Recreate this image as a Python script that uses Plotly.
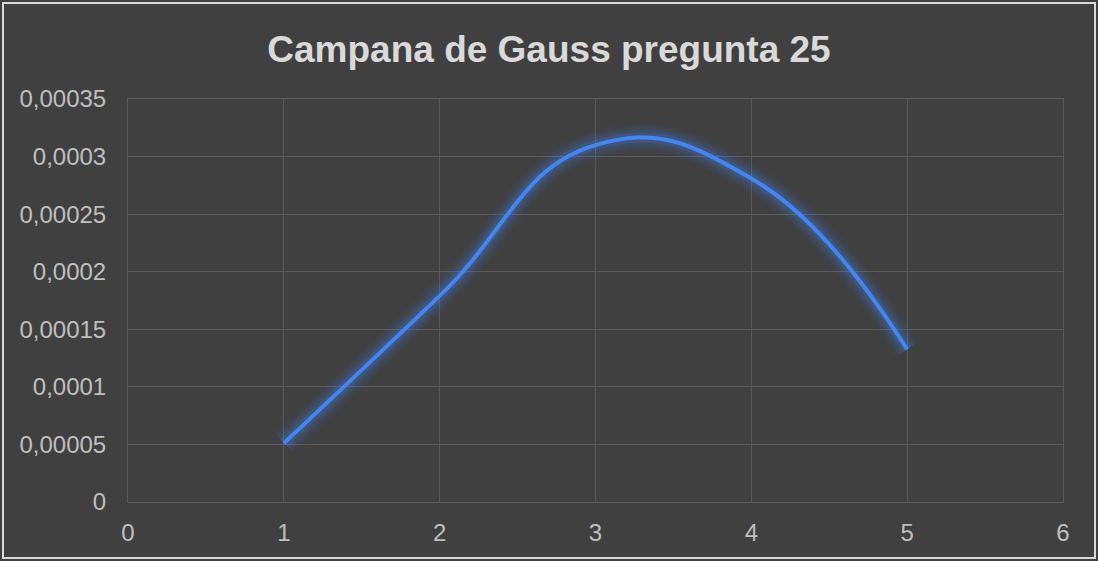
import plotly.graph_objects as go

x_vals = [1, 2, 3, 4, 5]
y_vals = [0.000051, 0.000179, 0.000310, 0.000281, 0.0001325]

y_tick_vals = [0, 0.00005, 0.0001, 0.00015, 0.0002, 0.00025, 0.0003, 0.00035]
y_tick_text = ["0", "0,00005", "0,0001", "0,00015", "0,0002", "0,00025", "0,0003", "0,00035"]
x_tick_vals = [0, 1, 2, 3, 4, 5, 6]

title_text = "Campana de Gauss pregunta 25"

fig = go.Figure()

# glow layers
for w, a in [(28, 0.05), (22, 0.07), (16, 0.10), (10, 0.16)]:
    fig.add_trace(go.Scatter(
        x=x_vals, y=y_vals, mode="lines",
        line=dict(color=f"rgba(66,133,244,{a})", width=w, shape="spline", smoothing=1.3),
        hoverinfo="skip", showlegend=False,
    ))

fig.add_trace(go.Scatter(
    x=x_vals, y=y_vals, mode="lines",
    line=dict(color="#4285F4", width=4, shape="spline", smoothing=1.3),
    showlegend=False,
))

W, H = 1098, 561
ml, mr, mt, mb = 128, 35, 99, 59
pw, ph = W - ml - mr, H - mt - mb

grid = "#5a5a5a"

fig.update_layout(
    width=W, height=H,
    margin=dict(l=ml, r=mr, t=mt, b=mb),
    paper_bgcolor="#404040",
    plot_bgcolor="#404040",
    title=dict(
        text=f"<b>{title_text}</b>",
        x=0.5, xanchor="center", y=1 - 49 / H, yanchor="middle",
        font=dict(family="Liberation Sans, Arial, sans-serif", size=37, color="#d9d9d9"),
    ),
    font=dict(family="Liberation Sans, Arial, sans-serif", size=24, color="#bfbfbf"),
    xaxis=dict(
        range=[0, 6], tickvals=x_tick_vals, showgrid=True, gridcolor=grid, gridwidth=1,
        zeroline=False, showline=True, linecolor=grid, linewidth=1, mirror=True, ticks="",
        tickfont=dict(size=24, color="#bfbfbf"), ticklabelstandoff=9,
    ),
    yaxis=dict(
        range=[0, 0.00035], tickvals=y_tick_vals, ticktext=y_tick_text, showgrid=True,
        gridcolor=grid, gridwidth=1, zeroline=False, showline=True, linecolor=grid,
        linewidth=1, mirror=True, ticks="",
        tickfont=dict(size=24, color="#bfbfbf"), ticklabelstandoff=16,
    ),
    shapes=[dict(
        type="rect", xref="paper", yref="paper",
        x0=-(ml - 3) / pw, x1=1 + (mr - 3) / pw,
        y0=-(mb - 3) / ph, y1=1 + (mt - 3) / ph,
        line=dict(color="#d9d9d9", width=2), layer="below",
    )],
)

fig.write_html(
    "out.html",
    config={"displayModeBar": False},
    post_script="document.body.style.margin='0';document.body.style.overflow='hidden';document.documentElement.style.overflow='hidden';",
)
